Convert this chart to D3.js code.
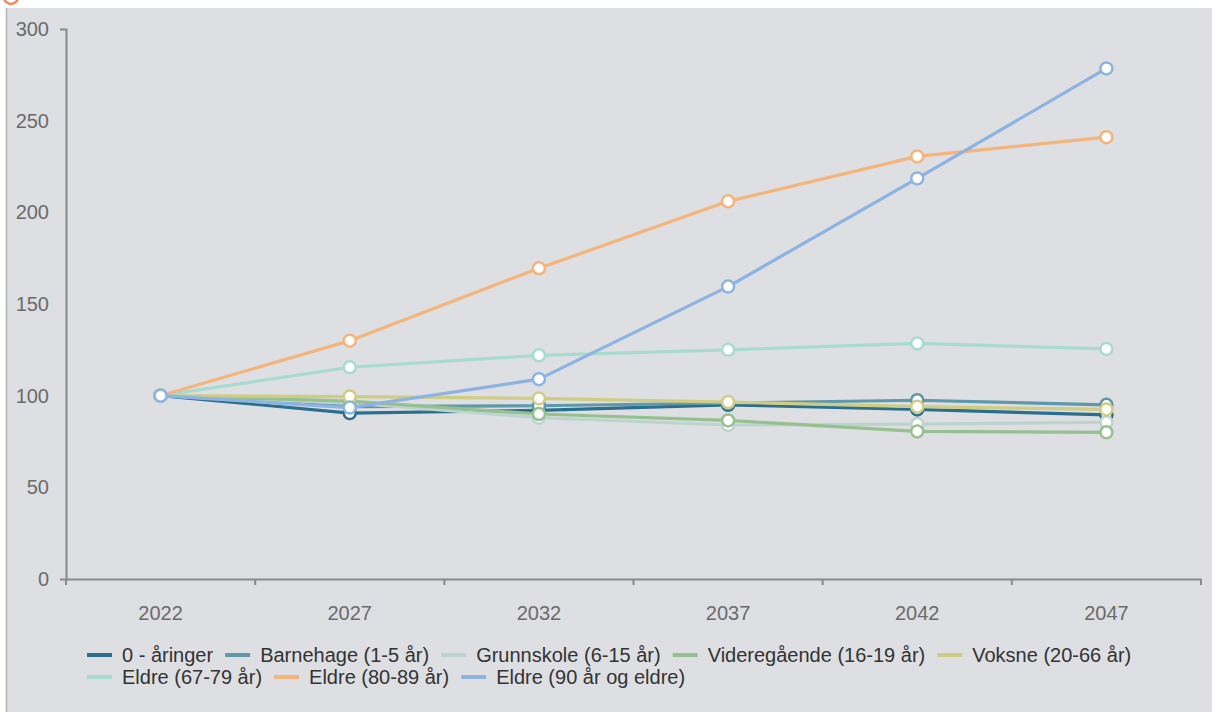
<!DOCTYPE html>
<html>
<head>
<meta charset="utf-8">
<script src="https://cdn.jsdelivr.net/npm/d3@7"></script>
<style>
  body { margin: 0; background: #fff; }
  svg { display: block; font-family: "Liberation Sans", Arial, sans-serif; }
</style>
</head>
<body>
<div id="chart"></div>
<script>
const svgWidth = 1212;
const svgHeight = 712;

// data (index, 2022 = 100)
const years = ["2022", "2027", "2032", "2037", "2042", "2047"];
const seriesNames = [
  "0 - åringer",
  "Barnehage (1-5 år)",
  "Grunnskole (6-15 år)",
  "Videregående (16-19 år)",
  "Voksne (20-66 år)",
  "Eldre (67-79 år)",
  "Eldre (80-89 år)",
  "Eldre (90 år og eldre)"
];
const aaringer = [100, 90.5, 92, 95, 92.5, 89.5];
const barnehage = [100, 94, 94.5, 96, 97.5, 95];
const grunnskole = [100, 96, 88, 84, 84.5, 85.5];
const videregaende = [100, 97, 90, 86.5, 80.5, 80];
const voksne = [100, 99.5, 98.5, 96.5, 94, 92.5];
const eldre6779 = [100, 115.5, 122, 125, 128.5, 125.5];
const eldre8089 = [100, 130, 169.5, 206, 230.5, 241];
const eldre90 = [100, 93.5, 109, 159.5, 218.5, 278.5];
const yTicks = [0, 50, 100, 150, 200, 250, 300];

const colors = ["#2b6f8e", "#5f98a9", "#bcd4ce", "#96c08f", "#cfcd85", "#a7dbd2", "#f3b57c", "#8db3e2"];
const allValues = [aaringer, barnehage, grunnskole, videregaende, voksne, eldre6779, eldre8089, eldre90];

const series = seriesNames.map((name, i) => ({
  name: name,
  color: colors[i],
  values: allValues[i].map((v, j) => ({ year: years[j], value: v }))
}));

const plot = { left: 66, right: 1201, top: 29, bottom: 579 };
const fontSize = "20px";

const svg = d3.select("#chart")
  .append("svg")
  .attr("width", svgWidth)
  .attr("height", svgHeight);

// grey panel
svg.append("rect")
  .attr("x", 6)
  .attr("y", 8)
  .attr("width", svgWidth - 6)
  .attr("height", svgHeight - 8)
  .attr("fill", "#dedfe2");
svg.append("line")
  .attr("x1", 6.5).attr("x2", 6.5)
  .attr("y1", 8).attr("y2", svgHeight)
  .attr("stroke", "#b4b4b8")
  .attr("stroke-width", 1.5);

// little orange icon cut off at the top
svg.append("circle")
  .attr("cx", 11).attr("cy", -3)
  .attr("r", 7)
  .attr("fill", "none")
  .attr("stroke", "#ee8a5c")
  .attr("stroke-width", 2.5);

const x = d3.scaleBand()
  .domain(years)
  .range([plot.left, plot.right]);

const y = d3.scaleLinear()
  .domain([0, 300])
  .range([plot.bottom, plot.top]);

// y axis
const yAxis = svg.append("g")
  .attr("transform", `translate(${plot.left}, 0)`)
  .call(d3.axisLeft(y).tickValues(yTicks).tickSize(0).tickSizeOuter(6).tickPadding(17));
yAxis.select(".domain").attr("stroke", "#8a8a8a").attr("stroke-width", 2);
yAxis.selectAll("text")
  .attr("fill", "#6b6b6b")
  .style("font-size", fontSize)
  .style("font-family", "Liberation Sans, Arial, sans-serif");

// x axis
const xAxis = svg.append("g")
  .attr("transform", `translate(0, ${plot.bottom})`)
  .call(d3.axisBottom(x).tickSize(0).tickSizeOuter(0).tickPadding(27));
xAxis.select(".domain").attr("stroke", "#8a8a8a").attr("stroke-width", 2);
xAxis.selectAll("text")
  .attr("fill", "#6b6b6b")
  .style("font-size", fontSize)
  .style("font-family", "Liberation Sans, Arial, sans-serif");

// tick marks at the category boundaries
const bounds = years.map(d => x(d)).concat([x(years[years.length - 1]) + x.bandwidth()]);
xAxis.selectAll("line.bound")
  .data(bounds)
  .enter()
  .append("line")
  .classed("bound", true)
  .attr("x1", d => d).attr("x2", d => d)
  .attr("y1", 0).attr("y2", 6)
  .attr("stroke", "#8a8a8a")
  .attr("stroke-width", 2);

const cx = d => x(d.year) + x.bandwidth() / 2;

const line = d3.line()
  .x(cx)
  .y(d => y(d.value));

const groups = svg.selectAll("g.series")
  .data(series)
  .enter()
  .append("g")
  .classed("series", true);

groups.append("path")
  .attr("d", d => line(d.values))
  .attr("fill", "none")
  .attr("stroke", d => d.color)
  .attr("stroke-width", 3.2)
  .attr("stroke-linejoin", "round");

groups.selectAll("circle")
  .data(d => d.values.map(v => ({ ...v, color: d.color })))
  .enter()
  .append("circle")
  .attr("cx", cx)
  .attr("cy", d => y(d.value))
  .attr("r", 6)
  .attr("fill", "#fff")
  .attr("stroke", d => d.color)
  .attr("stroke-width", 2.5);

// legend, wraps onto a second row
const legend = svg.append("g");
let lx = 87;
let ly = 655;
const maxX = 1170;
series.forEach(s => {
  const item = legend.append("g");
  const label = item.append("text")
    .attr("x", 35)
    .attr("dy", "0.35em")
    .attr("fill", "#333")
    .style("font-size", fontSize)
    .text(s.name);
  const w = 35 + label.node().getComputedTextLength();
  if (lx + w > maxX) {
    lx = 87;
    ly += 22;
  }
  item.attr("transform", `translate(${lx}, ${ly})`);
  item.append("line")
    .attr("x1", 0).attr("x2", 25)
    .attr("stroke", s.color)
    .attr("stroke-width", 4);
  lx += w + 12;
});
</script>
</body>
</html>
